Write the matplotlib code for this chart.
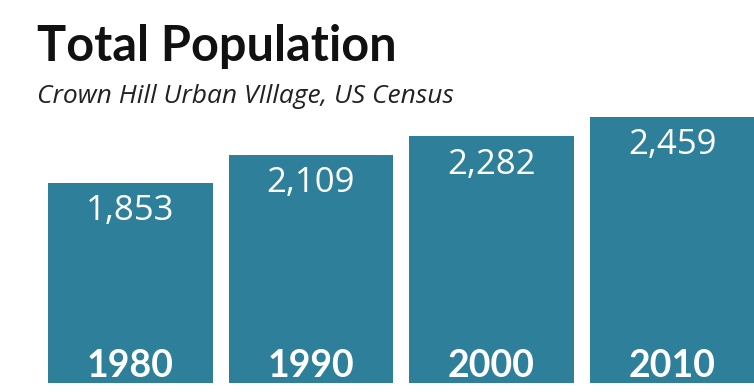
import matplotlib
matplotlib.use("Agg")
import matplotlib.pyplot as plt

years = ["1980", "1990", "2000", "2010"]
population = [1853, 2109, 2282, 2459]
title = "Total Population"
subtitle = "Crown Hill Urban VIllage, US Census"

bar_color = "#2e7f9a"

fig = plt.figure(figsize=(7.54, 3.92), dpi=100)
fig.patch.set_facecolor("white")

ax = fig.add_axes([48 / 754, 9 / 392, 706.5 / 754, 270.5 / 392])
x = list(range(len(years)))
ax.bar(x, population, width=0.914, color=bar_color)
ax.set_xlim(-0.457, 3.457)
ax.set_ylim(0, 2500)
ax.axis("off")

for xi, val, yr in zip(x, population, years):
    ax.annotate(f"{val:,}", xy=(xi, val), xytext=(0, -27), textcoords="offset points",
                ha="center", va="baseline", color="white", fontsize=25,
                family="Open Sans")
    ax.annotate(yr, xy=(xi, 0), xytext=(0, 4.3), textcoords="offset points",
                ha="center", va="baseline", color="white", fontsize=27,
                family="Lato", fontweight="bold")

fig.text(37 / 754, 1 - 61 / 392, title, fontsize=35, fontweight="bold",
         family="Lato", color="#111111", ha="left", va="baseline")
fig.text(37 / 754, 1 - 103 / 392, subtitle, fontsize=19, style="italic",
         family="Open Sans", color="#222222", ha="left", va="baseline")

fig.savefig("out.png", dpi=100, facecolor="white")
